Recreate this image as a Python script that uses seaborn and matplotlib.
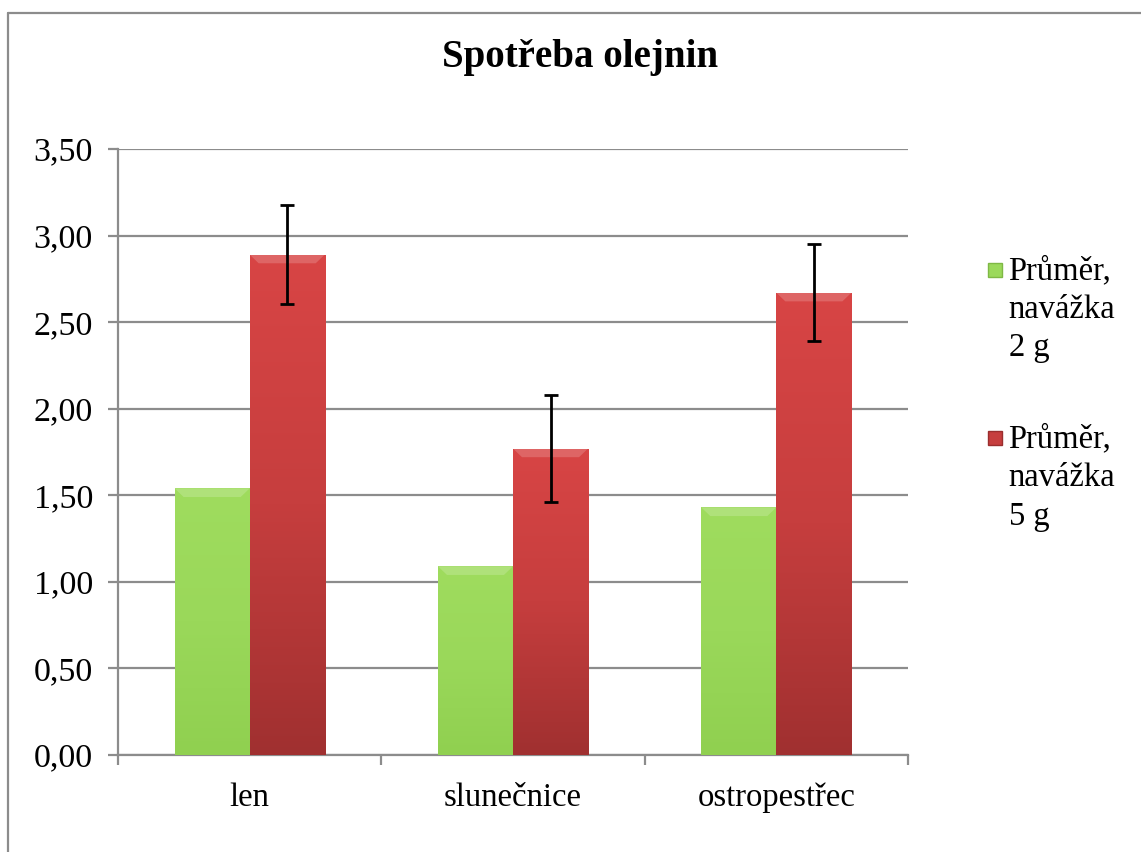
import numpy as np
import pandas as pd
import matplotlib
matplotlib.use("Agg")
import matplotlib.pyplot as plt
import seaborn as sns
from matplotlib.colors import LinearSegmentedColormap
from matplotlib.patches import Patch, Rectangle
from matplotlib.lines import Line2D
from matplotlib.legend_handler import HandlerPatch

# ---- data ----
categories = ["len", "slunečnice", "ostropestřec"]
series_names = ["Průměr,\nnavážka\n2 g", "Průměr,\nnavážka\n5 g"]
mean_2g = [1.54, 1.09, 1.43]
mean_5g = [2.89, 1.77, 2.67]
err_5g = [0.285, 0.31, 0.28]
yticks = [0.0, 0.5, 1.0, 1.5, 2.0, 2.5, 3.0, 3.5]
title = "Spotřeba olejnin"

df = pd.DataFrame({
    "kategorie": categories * 2,
    "serie": [series_names[0]] * 3 + [series_names[1]] * 3,
    "hodnota": mean_2g + mean_5g,
})

sns.set_theme(style="white")
plt.rcParams["font.family"] = ["Liberation Serif", "DejaVu Serif"]
plt.rcParams["text.color"] = "black"
plt.rcParams["xtick.color"] = "black"
plt.rcParams["ytick.color"] = "black"

W, H = 1141, 852
fig = plt.figure(figsize=(W / 100, H / 100), dpi=100)
ax = fig.add_axes([118 / W, 1 - 755 / H, (908 - 118) / W, (755 - 149) / H])

green_base = "#98d75a"
red_base = "#cf4040"
sns.barplot(data=df, x="kategorie", y="hodnota", hue="serie",
            palette=[green_base, red_base], width=0.57, errorbar=None,
            ax=ax, legend=False, saturation=1, zorder=3)

ax.set_xlim(-0.5, 2.5)
ax.set_ylim(0, 3.5)

# gradient fills
cmaps = [
    LinearSegmentedColormap.from_list("g", ["#90d050", "#9ad85a", "#9fdc5e"]),
    LinearSegmentedColormap.from_list("r", ["#a03030", "#c63e3e", "#d84545"]),
]
grad = np.linspace(0, 1, 256).reshape(-1, 1)
patches = list(ax.patches)
for i, p in enumerate(patches):
    s = i // 3
    x0, y0 = p.get_x(), p.get_y()
    w, h = p.get_width(), p.get_height()
    p.set_edgecolor("none")
    im = ax.imshow(grad, extent=[x0, x0 + w, y0, y0 + h], origin="lower",
                   aspect="auto", cmap=cmaps[s], zorder=3.5)
    im.set_clip_path(p)
    # subtle bevel at top
    ax.fill([x0, x0 + w, x0 + w * 0.88, x0 + w * 0.12],
            [y0 + h, y0 + h, y0 + h - 0.05, y0 + h - 0.05],
            color="#ffffff", alpha=0.18, zorder=3.6, lw=0)

ax.set_xlim(-0.5, 2.5)
ax.set_ylim(0, 3.5)

# error bars for 5 g series
red_patches = patches[3:6]
xs = [p.get_x() + p.get_width() / 2 for p in red_patches]
ax.errorbar(xs, mean_5g, yerr=err_5g, fmt="none", ecolor="black",
            elinewidth=2, capsize=5, capthick=2, zorder=5)

# grid & axes
ax.set_yticks(yticks)
ax.set_yticklabels([f"{v:.2f}".replace(".", ",") for v in yticks])
ax.yaxis.grid(True, color="#8c8c8c", linewidth=1.6, zorder=0)
ax.set_axisbelow(True)
ax.xaxis.grid(False)
for side in ["top", "right"]:
    ax.spines[side].set_visible(False)
for side in ["left", "bottom"]:
    ax.spines[side].set_color("#8c8c8c")
    ax.spines[side].set_linewidth(1.6)
ax.set_xlabel("")
ax.set_ylabel("")
ax.tick_params(axis="y", which="major", direction="out", length=7, width=1.6,
               color="#8c8c8c", labelsize=24.5, labelcolor="black", pad=11, left=True)
ax.tick_params(axis="x", which="major", length=0, labelsize=23.5,
               labelcolor="black", pad=20)
ax.set_xticks([-0.5, 0.5, 1.5, 2.5], minor=True)
ax.tick_params(axis="x", which="minor", direction="out", length=7, width=1.6,
               color="#8c8c8c", bottom=True)


# legend: square marker aligned with the first text line
class TopSquareHandler(HandlerPatch):
    def create_artists(self, legend, orig_handle, xdescent, ydescent,
                       width, height, fontsize, trans):
        size = 0.42 * fontsize
        top = -ydescent + height + 0.27 * fontsize
        r = Rectangle((-xdescent, top - size), size, size,
                      facecolor=orig_handle.get_facecolor(),
                      edgecolor=orig_handle.get_edgecolor(), lw=1.0,
                      transform=trans)
        return [r]


handles = [Patch(facecolor="#9bd95b", edgecolor="#7fb845"),
           Patch(facecolor="#c63e3e", edgecolor="#9a2e2e")]
leg = fig.legend(handles, series_names, loc="upper left",
                 bbox_to_anchor=(972 / W, 1 - 239 / H), frameon=False,
                 fontsize=23.5, handlelength=0.42, handleheight=3.4,
                 handletextpad=0.2, labelspacing=1.85, borderpad=0,
                 handler_map={Patch: TopSquareHandler()})
for t in leg.get_texts():
    t.set_linespacing(1.35)
    t.set_color("black")

# title
fig.text(580 / W, 1 - 58 / H, title, ha="center", va="center",
         fontsize=28, fontweight="bold", color="black")

# chart frame
fig.add_artist(Line2D([8 / W, 8 / W], [0, 1 - 13 / H], transform=fig.transFigure,
                      color="#8c8c8c", lw=1.6))
fig.add_artist(Line2D([8 / W, 1], [1 - 13 / H, 1 - 13 / H], transform=fig.transFigure,
                      color="#8c8c8c", lw=1.6))

fig.savefig("out.png", dpi=100, facecolor="white")
